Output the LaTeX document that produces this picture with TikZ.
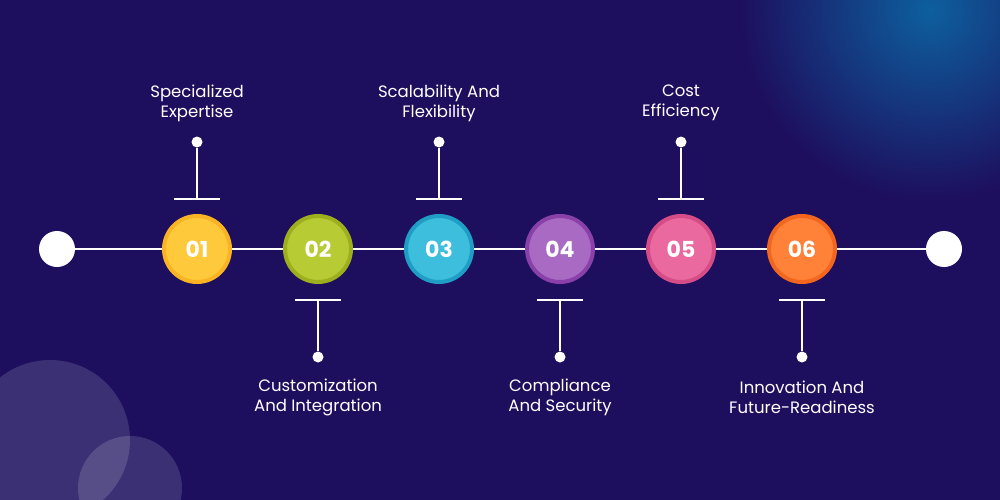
\documentclass[tikz,border=0pt]{standalone}
\usepackage{fontspec}
\setmainfont{Poppins}
\begin{document}
\begin{tikzpicture}[x=1pt,y=-1pt,
  lbl/.style={text=white,font=\fontsize{16.5}{20}\selectfont,align=center},
  num/.style={circle,minimum size=66pt,line width=4pt,text=white,font=\fontsize{22}{24}\selectfont\bfseries},
  wire/.style={white,line width=2.5pt},
  dot/.style={circle,fill=white,inner sep=0pt,minimum size=11pt}]
\definecolor{bgA}{HTML}{1D0F5E}
\definecolor{bgB}{HTML}{0D5F9E}
\clip (0,0) rectangle (1000,500);
\fill[bgA] (0,0) rectangle (1000,500);
\shade[inner color=bgB, outer color=bgA] (930,10) circle (190);
\fill[white,opacity=0.14] (50,440) circle (80);
\fill[white,opacity=0.14] (130,488) circle (52);
\node[circle,fill=white,minimum size=36pt,inner sep=0pt] (s) at (57,249) {};
\node[circle,fill=white,minimum size=36pt,inner sep=0pt] (e) at (944,249) {};
\foreach \i/\x/\f/\b in {1/197/FFC93C/F9B323,2/318/B7CB35/9DAF1C,3/439/3DBEDC/1F9DC4,4/560/A86AC2/8940A8,5/681/EA6AA0/D64C86,6/802/FF8238/F2661E}{
  \definecolor{f\i}{HTML}{\f}\definecolor{b\i}{HTML}{\b}
  \node[num,fill=f\i,draw=b\i] (n\i) at (\x,249) {0\i};
}
\draw[wire] (s)--(n1) (n1)--(n2) (n2)--(n3) (n3)--(n4) (n4)--(n5) (n5)--(n6) (n6)--(e);
\foreach \i/\x in {1/197,3/439,5/681}{
  \node[dot] (d\i) at (\x,142) {};
  \coordinate (t\i) at (\x,199);
  \draw[wire] (d\i)--(t\i);
  \draw[wire] (\x-23,199)--(\x+23,199);
}
\foreach \i/\x in {2/318,4/560,6/802}{
  \node[dot] (d\i) at (\x,357) {};
  \coordinate (t\i) at (\x,300);
  \draw[wire] (d\i)--(t\i);
  \draw[wire] (\x-23,300)--(\x+23,300);
}
\node[lbl] at (197,103) {Specialized\\Expertise};
\node[lbl] at (439,103) {Scalability And\\Flexibility};
\node[lbl] at (681,103) {Cost\\Efficiency};
\node[lbl] at (318,397) {Customization\\And Integration};
\node[lbl] at (560,397) {Compliance\\And Security};
\node[lbl] at (802,397) {Innovation And\\Future-Readiness};
\end{tikzpicture}
\end{document}
